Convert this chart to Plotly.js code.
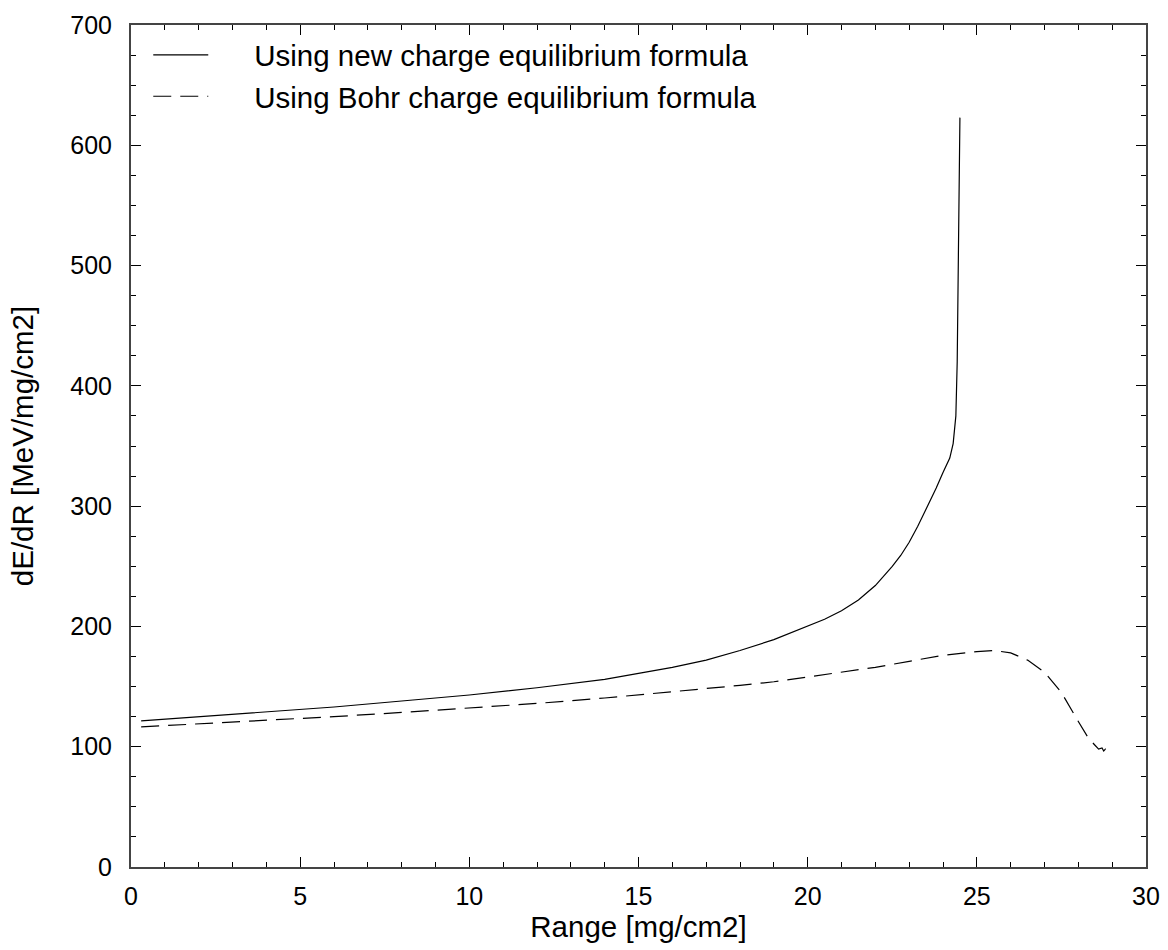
<!DOCTYPE html>
<html>
<head>
<meta charset="utf-8">
<script src="https://cdn.plot.ly/plotly-3.0.1.min.js"></script>
<style>
  html, body { margin: 0; padding: 0; background: #fff; }
  #plot { width: 1168px; height: 950px; }
</style>
</head>
<body>
<div id="plot"></div>
<script>
// Stopping power vs. range for the two charge-equilibrium models
const rangeNew = [0.3, 2, 4, 6, 8, 10, 12, 14, 15, 16, 17, 18, 19, 20, 20.5, 21, 21.5, 22, 22.5, 22.75, 23, 23.25, 23.5, 23.8, 24.0, 24.2, 24.3, 24.38, 24.42, 24.45, 24.48, 24.5];
const dedxNew  = [121.5, 125, 129, 133, 138, 143, 149, 156, 161, 166, 172, 180, 189, 200, 206, 213, 222, 234, 250, 259, 270, 283, 297, 315, 328, 340, 352, 375, 420, 480, 560, 623];

const rangeBohr = [0.3, 2, 4, 6, 8, 10, 12, 14, 16, 18, 19, 20, 21, 22, 23, 24, 25, 25.5, 26, 26.5, 27, 27.5, 28, 28.3, 28.5, 28.6, 28.7, 28.75, 28.8, 28.85];
const dedxBohr  = [116.5, 119, 122, 125, 128.5, 132, 136, 140.5, 145.5, 151, 154, 158, 162, 166, 171, 176, 179, 180, 178, 172, 162, 145, 121, 107, 101, 98, 99, 96.5, 98, 96];

const seriesNames = ['Using new charge equilibrium formula', 'Using Bohr charge equilibrium formula'];

const FONT = 'Liberation Sans, Arial, Helvetica, sans-serif';
// extra room between the legend sample line and its label
const PAD = '\u00A0\u00A0\u00A0\u00A0\u00A0';

const traces = [
  {
    x: rangeNew, y: dedxNew, name: PAD + seriesNames[0],
    type: 'scatter', mode: 'lines',
    line: { color: '#000', width: 1.2, dash: 'solid' }
  },
  {
    x: rangeBohr, y: dedxBohr, name: PAD + seriesNames[1],
    type: 'scatter', mode: 'lines',
    line: { color: '#000', width: 1.2, dash: '18px,9px' }
  }
];

const axisCommon = {
  showgrid: false, zeroline: false,
  showline: true, linecolor: '#444', linewidth: 2, mirror: 'ticks',
  ticks: 'inside', ticklen: 10, tickwidth: 1.2, tickcolor: '#000',
  tickfont: { family: FONT, size: 25, color: '#000' }
};

const layout = {
  width: 1168, height: 950,
  paper_bgcolor: '#fff', plot_bgcolor: '#fff',
  margin: { l: 131, r: 22, t: 25, b: 83 },
  showlegend: true,
  legend: {
    x: 0.017, y: 0.995, xanchor: 'left', yanchor: 'top',
    bgcolor: 'rgba(0,0,0,0)', borderwidth: 0,
    font: { family: FONT, size: 29.5, color: '#000' },
    itemwidth: 55, tracegroupgap: 0
  },
  xaxis: Object.assign({}, axisCommon, {
    range: [0, 30], dtick: 5, tick0: 0,
    ticklabelstandoff: 6,
    minor: { ticks: 'inside', ticklen: 5, dtick: 1, tickcolor: '#000', tickwidth: 1 },
    title: { text: 'Range [mg/cm2]', font: { family: FONT, size: 29.5, color: '#000' }, standoff: 4 }
  }),
  yaxis: Object.assign({}, axisCommon, {
    range: [0, 700], dtick: 100, tick0: 0,
    ticklabelstandoff: 12,
    minor: { ticks: 'inside', ticklen: 5, dtick: 25, tickcolor: '#000', tickwidth: 1 },
    title: { text: 'dE/dR [MeV/mg/cm2]', font: { family: FONT, size: 29.5, color: '#000' }, standoff: 28 }
  })
};

Plotly.newPlot('plot', traces, layout, { staticPlot: true, displayModeBar: false });
</script>
</body>
</html>
